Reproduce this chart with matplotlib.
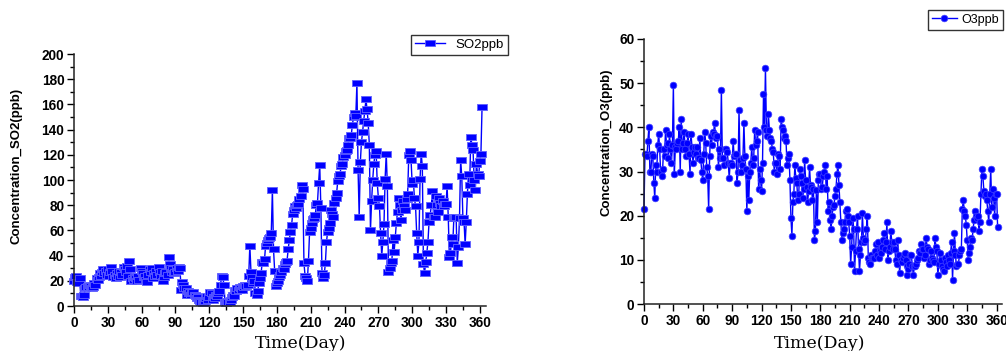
import matplotlib
matplotlib.use('Agg')
import matplotlib.pyplot as plt
import numpy as np
from matplotlib.ticker import MultipleLocator

# Daily SO2 concentration (ppb), day 0 .. 362
so2 = [20, 23, 24, 19, 18, 22, 8, 8, 7, 9,
       14, 15, 16, 15, 17, 16, 14, 15, 18, 17,
       22, 21, 23, 26, 24, 27, 29, 26, 28, 25,
       29, 24, 27, 31, 28, 23, 25, 22, 26, 24,
       28, 23, 27, 25, 31, 29, 27, 32, 24, 36,
       29, 20, 22, 21, 23, 22, 20, 24, 21, 30,
       28, 26, 23, 24, 21, 19, 25, 29, 27, 30,
       22, 26, 24, 28, 25, 31, 27, 24, 28, 20,
       23, 26, 27, 25, 39, 33, 30, 27, 29, 26,
       27, 30, 28, 31, 30, 13, 19, 17, 14, 14,
       9, 12, 10, 11, 9, 10, 11, 9, 8, 6,
       7, 5, 4, 3, 2, 2, 4, 6, 8, 5,
       7, 11, 10, 5, 7, 6, 9, 8, 10, 12,
       17, 24, 23, 17, 3, 2, 4, 3, 3, 5,
       7, 9, 8, 13, 12, 14, 13, 15, 14, 13,
       16, 15, 17, 16, 17, 24, 48, 27, 23, 18,
       20, 10, 9, 12, 18, 22, 26, 35, 34, 37,
       48, 50, 52, 54, 55, 58, 92, 45, 28, 16,
       18, 20, 23, 25, 27, 30, 29, 33, 35, 36,
       45, 52, 59, 64, 73, 76, 79, 78, 80, 81,
       85, 87, 96, 93, 34, 24, 22, 20, 36, 59,
       62, 66, 69, 70, 72, 80, 82, 98, 112, 78,
       26, 22, 25, 34, 51, 59, 62, 66, 76, 73,
       71, 82, 86, 90, 99, 103, 105, 111, 113, 118,
       120, 123, 124, 128, 133, 133, 136, 144, 150, 153,
       151, 177, 108, 71, 114, 130, 138, 147, 155, 164,
       156, 145, 128, 60, 83, 100, 113, 120, 123, 98,
       86, 79, 58, 40, 51, 65, 101, 121, 95, 27,
       30, 34, 36, 52, 43, 55, 66, 75, 86, 80,
       68, 76, 83, 79, 76, 85, 89, 120, 123, 116,
       97, 100, 86, 79, 58, 40, 51, 101, 121, 111,
       33, 26, 35, 42, 51, 67, 72, 80, 91, 71,
       71, 87, 80, 75, 86, 82, 79, 83, 79, 81,
       81, 95, 71, 39, 42, 55, 49, 70, 70, 71,
       34, 47, 70, 116, 103, 70, 67, 49, 67, 89,
       105, 96, 134, 128, 124, 100, 92, 113, 105, 103,
       115, 121, 158]

# Daily O3 concentration (ppb), day 0 .. 361
o3 = [21.5, 34, 34, 33.5, 37, 40, 30, 30, 34, 33.5,
      27.5, 24, 31.5, 30, 36, 38.5, 35, 30, 29, 30.5,
      35, 33.5, 39.5, 36, 36.5, 33, 38.5, 35, 32, 36,
      49.5, 29.5, 35.5, 35, 36.5, 37, 40, 30, 42, 35,
      36.5, 39, 35, 33.5, 36.5, 38.5, 34, 29.5, 38.5, 35.5,
      32, 34.5, 35.5, 34, 35.5, 33, 33, 37.5, 32.5, 30,
      28, 34, 39, 36.5, 31, 29, 21.5, 33.5, 38, 36,
      39, 38.5, 41, 38, 37.5, 38, 31, 35, 33, 48.5,
      33, 33, 31.5, 35, 35, 34.5, 32, 28.5, 32, 32,
      31.5, 37, 33.5, 34, 34, 27.5, 30, 44, 32.5, 30,
      31.5, 33, 41, 33.5, 30.5, 21, 29, 23.5, 30, 32,
      35.5, 31.5, 33, 39.5, 36, 37, 39, 26, 30.5, 28,
      25.5, 32, 47.5, 40, 53.5, 39.5, 38, 43, 39.5, 37.5,
      37, 35, 34.5, 30, 32, 32, 29.5, 34, 33.5, 30.5,
      42, 40, 39.5, 37.5, 38, 37, 31.5, 33, 34, 28,
      19.5, 15.5, 23, 25, 31.5, 28.5, 27.5, 23.5, 25, 30.5,
      29, 27.5, 24, 26, 32.5, 28, 26.5, 23, 25.5, 31,
      27, 26.5, 23.5, 26, 14.5, 16.5, 25.8, 18.5, 28, 29.5,
      29.5, 26, 26.5, 29, 30, 31.5, 26, 29, 21, 23,
      19, 17, 20, 22, 22.5, 24.5, 26, 29.5, 31.5, 27,
      23, 18.5, 14.5, 16, 17, 18.5, 21, 21.5, 20, 18.5,
      15.5, 9, 13, 19.5, 17, 7.5, 12, 17, 20, 12.5,
      7.5, 11, 14, 20.5, 15, 14, 14.5, 17, 20, 10.5,
      9.5, 9, 11, 10.5, 10.5, 10.5, 12, 13.5, 11, 14,
      10.5, 12, 11.5, 13, 14.5, 16, 12.5, 14, 18.5, 10,
      12, 13, 16.5, 14, 12.5, 14, 12.5, 10, 9, 14.5,
      11, 7, 10, 9.5, 10.5, 11, 11.5, 10, 8.5, 6.5,
      8, 9, 11, 11, 8.5, 6.5, 8.5, 8.5, 9, 10,
      10.5, 12, 11.5, 13.5, 12.5, 12.5, 10.5, 11, 15, 13,
      12.5, 9, 10, 12, 10.5, 10, 9.5, 15, 13, 12,
      6.5, 9, 11.5, 10, 8.5, 8, 7.5, 10.5, 9.5, 8.5,
      11, 10, 9, 11.5, 14, 5.5, 12, 16, 11, 8.5,
      9, 9, 11, 12, 12.5, 21.5, 23.5, 21, 20, 18,
      14.5, 10, 11.5, 13, 15, 14.5, 17, 19, 21, 20,
      19.5, 20, 16.5, 18.5, 25, 30.5, 29, 25.5, 24.5, 25,
      23.5, 21, 18.5, 25, 30.5, 22, 26, 24, 20, 25,
      25, 17.5]

so2_days = np.arange(len(so2))
o3_days = np.arange(len(o3))

blue = '#0000ff'
rect = [(-1, -0.7), (1, -0.7), (1, 0.7), (-1, 0.7), (-1, -0.7)]

fig = plt.figure(figsize=(10.06, 3.51), dpi=100)
ax1 = fig.add_axes([74 / 1006, 45 / 351, 412 / 1006, 252 / 351])
ax2 = fig.add_axes([644 / 1006, 47 / 351, 358 / 1006, 265 / 351])


def style_axis(ax, ymax, ymaj, ymin):
    for s in ['top', 'right']:
        ax.spines[s].set_visible(False)
    for s in ['left', 'bottom']:
        ax.spines[s].set_linewidth(1.1)
        ax.spines[s].set_color('#222222')
    ax.set_xlim(0, 365.5)
    ax.set_ylim(0, ymax)
    ax.xaxis.set_major_locator(MultipleLocator(30))
    ax.xaxis.set_minor_locator(MultipleLocator(15))
    ax.yaxis.set_major_locator(MultipleLocator(ymaj))
    ax.yaxis.set_minor_locator(MultipleLocator(ymin))
    ax.tick_params(which='major', direction='out', length=5, width=1, pad=2)
    ax.tick_params(which='minor', direction='out', length=3, width=1)
    for lab in ax.get_xticklabels() + ax.get_yticklabels():
        lab.set_fontfamily('Liberation Sans')
        lab.set_fontweight('bold')
        lab.set_fontsize(9.8)


# SO2 panel
ax1.plot(so2_days, so2, color=blue, linewidth=1, marker=rect, markersize=6.5,
         markerfacecolor=blue, markeredgecolor='#6060ff', markeredgewidth=0.6,
         label='SO2ppb', clip_on=False)
style_axis(ax1, 200, 20, 10)
ax1.set_ylabel('Concentration_SO2(ppb)', fontfamily='Liberation Sans',
               fontweight='bold', fontsize=9.5)
ax1.yaxis.set_label_coords(-0.124, 0.555)
ax1.set_xlabel('Time(Day)', fontfamily='DejaVu Serif', fontsize=12.5)
ax1.xaxis.set_label_coords(0.551, -0.115)
ax1.legend(loc='upper left', bbox_to_anchor=(404 / 1006, 1 - 28 / 351),
           bbox_transform=fig.transFigure, frameon=True, fancybox=False,
           edgecolor='black', handlelength=2.3, borderpad=0.3,
           prop={'family': 'Liberation Sans', 'size': 9.5})

# O3 panel
ax2.plot(o3_days, o3, color=blue, linewidth=1, marker='o', markersize=4.8,
         markerfacecolor=blue, markeredgecolor='#4040ff', markeredgewidth=0.5,
         label='O3ppb', clip_on=False)
style_axis(ax2, 60, 10, 5)
ax2.set_ylabel('Concentration_O3(ppb)', fontfamily='Liberation Sans',
               fontweight='bold', fontsize=9.5)
ax2.yaxis.set_label_coords(-0.087, 0.611)
ax2.set_xlabel('Time(Day)', fontfamily='DejaVu Serif', fontsize=12.5)
ax2.xaxis.set_label_coords(0.49, -0.117)
ax2.legend(loc='upper left', bbox_to_anchor=(928 / 1006, 1 - 10 / 351),
           bbox_transform=fig.transFigure, frameon=True, fancybox=False,
           edgecolor='black', handlelength=2.0, handletextpad=0.4,
           borderpad=0.3, borderaxespad=0,
           prop={'family': 'Liberation Sans', 'size': 9})

fig.savefig('out.png', dpi=100)
